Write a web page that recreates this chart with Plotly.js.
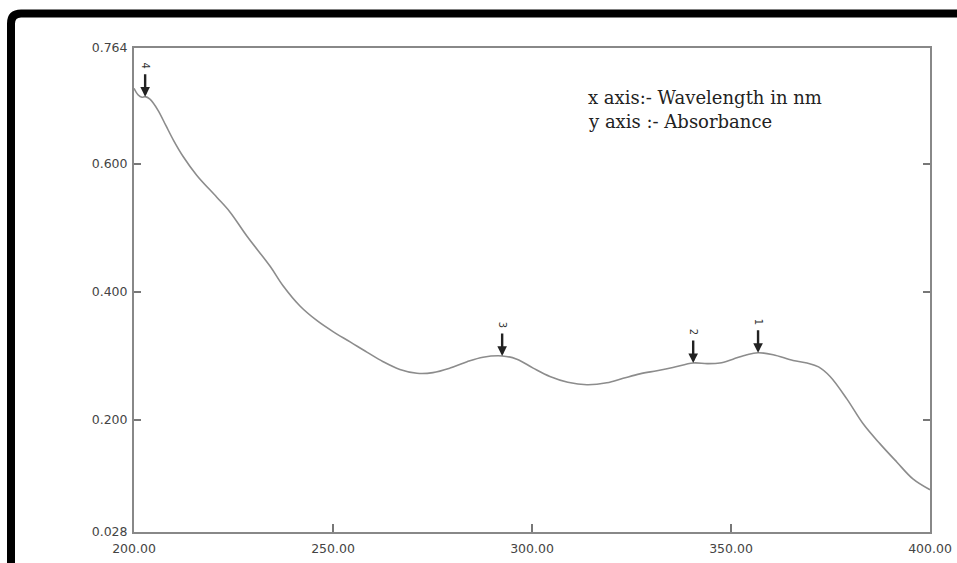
<!DOCTYPE html>
<html>
<head>
<meta charset="utf-8">
<script src="https://cdn.plot.ly/plotly-3.0.1.min.js"></script>
<style>
html,body{margin:0;padding:0;background:#fff;}
#chart{width:957px;height:563px;}
</style>
</head>
<body>
<div id="chart"></div>
<script>
// Spectrum data (wavelength in nm, absorbance)
const wavelength = [200.0, 201.0, 202.0, 202.8, 204.0, 206.0, 208.0, 210.0, 212.3, 215.8, 220.8, 224.1, 228.4, 234.2, 237.4, 241.7, 246.0, 250.0, 254.3, 258.5, 262.6, 266.8, 271.1, 275.1, 279.4, 283.7, 287.7, 292.5, 296.2, 300.3, 304.5, 309.0, 313.8, 318.8, 322.9, 327.1, 331.4, 335.4, 340.5, 344.0, 347.2, 350.5, 354.0, 356.8, 360.6, 365.6, 369.1, 372.0, 374.9, 379.1, 383.2, 387.4, 391.7, 395.7, 400.0];
const absorbance = [0.718, 0.708, 0.704, 0.705, 0.701, 0.684, 0.660, 0.636, 0.612, 0.582, 0.548, 0.525, 0.487, 0.440, 0.410, 0.378, 0.355, 0.338, 0.322, 0.306, 0.291, 0.279, 0.273, 0.274, 0.281, 0.291, 0.298, 0.300, 0.295, 0.281, 0.268, 0.259, 0.255, 0.258, 0.265, 0.272, 0.277, 0.282, 0.289, 0.288, 0.289, 0.295, 0.302, 0.305, 0.302, 0.293, 0.289, 0.283, 0.268, 0.233, 0.194, 0.163, 0.134, 0.108, 0.091];

// Peak picks
const peakWavelength = [356.8, 340.5, 292.5, 202.8];
const peakAbsorbance = [0.305, 0.289, 0.300, 0.705];
const peakLabels = ['1', '2', '3', '4'];

// Axis ticks
const xTickVals = [200, 250, 300, 350, 400];
const yRange = [0.025, 0.781];
const yTickVals = [0.025, 0.2, 0.4, 0.6, 0.781];
const yTickText = ['0.028', '0.200', '0.400', '0.600', '0.764'];

// Notes text
const notes = ['x axis:- Wavelength in nm', 'y axis :- Absorbance'];

const M = {l: 134, r: 27, t: 48, b: 31};
const W = 957, H = 563;
const pw = W - M.l - M.r, ph = H - M.t - M.b;
const px2x = p => (p - M.l) / pw;
const py2y = p => (H - M.b - p) / ph;

const trace = {
  x: wavelength, y: absorbance, type: 'scatter', mode: 'lines',
  line: {color: '#8c8c8c', width: 1.6, shape: 'spline', smoothing: 1},
  hoverinfo: 'skip', showlegend: false
};

const annotations = peakWavelength.map((w, i) => ({
  x: w, y: peakAbsorbance[i], xref: 'x', yref: 'y',
  text: peakLabels[i], textangle: 90,
  font: {family: 'DejaVu Sans, sans-serif', size: 10, color: '#333'},
  showarrow: true, ax: 0, ay: -31, arrowhead: 2, arrowsize: 0.8, arrowwidth: 2.4,
  arrowcolor: '#222', startstandoff: 4, standoff: 0
}));

notes.forEach((t, i) => annotations.push({
  x: px2x(586), y: py2y(97 + i * 24), xref: 'paper', yref: 'paper',
  xanchor: 'left', yanchor: 'middle', showarrow: false, text: t,
  font: {family: 'DejaVu Serif, serif', size: 18, color: '#222'}
}));

// Decorative black frame (top & left) with rounded corner
const fx = 11, fy = 13.5, rr = 10;
const framePath = 'M ' + px2x(fx) + ',' + py2y(H + 5) +
  ' L ' + px2x(fx) + ',' + py2y(fy + rr) +
  ' Q ' + px2x(fx) + ',' + py2y(fy) + ' ' + px2x(fx + rr) + ',' + py2y(fy) +
  ' L ' + px2x(W + 5) + ',' + py2y(fy);

const tickFont = {family: 'DejaVu Sans, sans-serif', size: 12.5, color: '#444'};

const layout = {
  width: W, height: H,
  margin: M,
  paper_bgcolor: '#fff', plot_bgcolor: '#fff',
  showlegend: false,
  xaxis: {
    range: [200, 400], tickvals: xTickVals, tickformat: '.2f',
    ticks: 'inside', ticklen: 8, tickwidth: 1.5, tickcolor: '#777',
    showline: true, linecolor: '#888', linewidth: 2, mirror: true,
    showgrid: false, zeroline: false, ticklabelstandoff: 4,
    tickfont: tickFont
  },
  yaxis: {
    range: yRange, tickvals: yTickVals, ticktext: yTickText,
    ticks: 'inside', ticklen: 7, tickwidth: 1.5, tickcolor: '#777',
    showline: true, linecolor: '#888', linewidth: 2, mirror: 'ticks',
    showgrid: false, zeroline: false, ticklabelstandoff: 2,
    tickfont: tickFont
  },
  annotations: annotations,
  shapes: [{
    type: 'path', xref: 'paper', yref: 'paper', path: framePath,
    line: {color: '#000', width: 8}, layer: 'above'
  }]
};

Plotly.newPlot('chart', [trace], layout, {displayModeBar: false, staticPlot: true});
</script>
</body>
</html>
